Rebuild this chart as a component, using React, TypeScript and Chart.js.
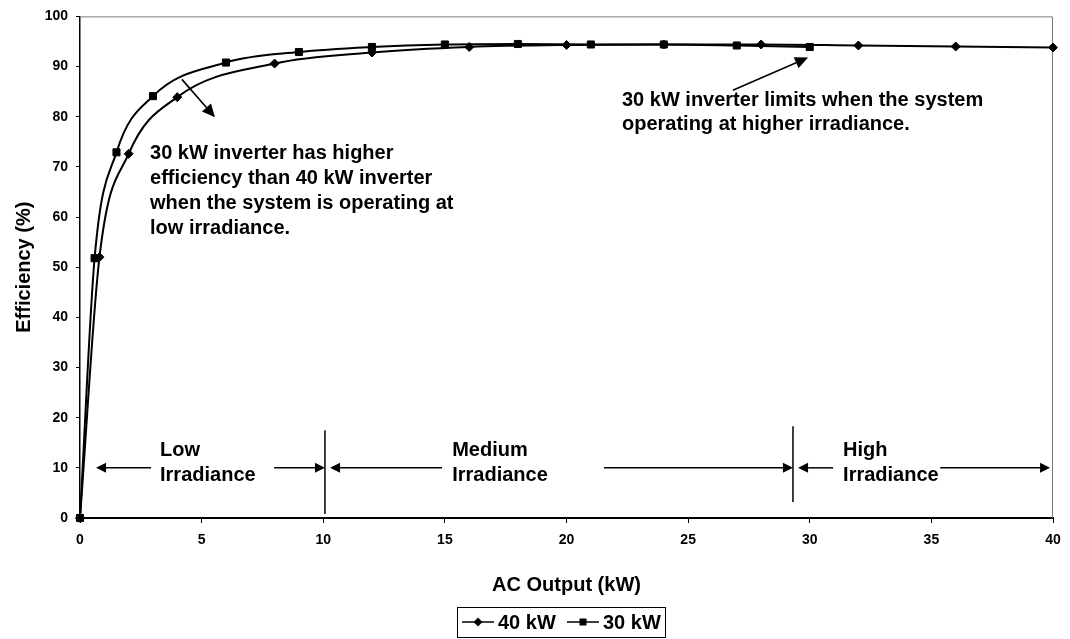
import React, { useEffect, useRef } from 'react';
import { Chart, registerables } from 'chart.js';

Chart.register(...registerables);

const FONT = "'Liberation Sans', Arial, Helvetica, sans-serif";

// ---- data ----
const seriesNames = ['40 kW', '30 kW'];
const output40 = [0, 0.8, 2, 4, 8, 12, 16, 20, 24, 28, 32, 36, 40];
const eff40 = [0, 52, 72.6, 83.9, 90.6, 92.8, 93.9, 94.3, 94.4, 94.4, 94.2, 94.0, 93.8];
const output30 = [0, 0.6, 1.5, 3, 6, 9, 12, 15, 18, 21, 24, 27, 30];
const eff30 = [0, 51.8, 72.9, 84.1, 90.8, 92.9, 93.9, 94.4, 94.5, 94.4, 94.4, 94.2, 93.9];

const xRange = [0, 40];
const xStep = 5;
const yRange = [0, 100];
const yStep = 10;
const xTitle = 'AC Output (kW)';
const yTitle = 'Efficiency (%)';

const noteLow = [
  '30 kW inverter has higher',
  'efficiency than 40 kW inverter',
  'when the system is operating at',
  'low irradiance.',
];
const noteHigh = ['30 kW inverter limits when the system', 'operating at higher irradiance.'];
const regionTop = ['Low', 'Medium', 'High'];
const regionBottom = ['Irradiance', 'Irradiance', 'Irradiance'];

// annotation geometry in data units (kW, %)
const regionBounds = [10.07, 29.31];
const regionBoundTop = [17.5, 18.3];
const regionBoundBottom = [0.8, 3.2];
const regionArrows = [
  [2.92, 0.66],
  [7.98, 10.07],
  [14.88, 10.28],
  [21.54, 29.31],
  [30.96, 29.52],
  [35.36, 39.88],
];
const regionArrowY = 10;
const regionTextX = [3.29, 15.3, 31.37];
const regionTextY = [13.5, 8.4];
const noteLowPos = { x: 2.88, y: [72.7, 67.7, 62.7, 57.8] };
const noteLowArrow = [4.19, 87.45, 5.55, 79.9];
const noteHighPos = { x: 22.28, y: [83.3, 78.5] };
const noteHighArrow = [26.84, 85.26, 29.93, 91.8];

function drawArrow(ctx: CanvasRenderingContext2D, x1: number, y1: number, x2: number, y2: number, head = 10, half = 4.5) {
  const a = Math.atan2(y2 - y1, x2 - x1);
  const bx = x2 - head * Math.cos(a);
  const by = y2 - head * Math.sin(a);
  ctx.beginPath();
  ctx.moveTo(x1, y1);
  ctx.lineTo(bx, by);
  ctx.stroke();
  ctx.beginPath();
  ctx.moveTo(x2, y2);
  ctx.lineTo(bx + half * Math.sin(a), by - half * Math.cos(a));
  ctx.lineTo(bx - half * Math.sin(a), by + half * Math.cos(a));
  ctx.closePath();
  ctx.fill();
}

const overlayPlugin = {
  id: 'overlay',
  beforeDatasetsDraw(chart: any) {
    const { ctx, chartArea } = chart;
    ctx.save();
    ctx.strokeStyle = '#7a7a7a';
    ctx.lineWidth = 1;
    ctx.beginPath();
    ctx.moveTo(chartArea.left, chartArea.top + 0.5);
    ctx.lineTo(chartArea.right - 0.5, chartArea.top + 0.5);
    ctx.lineTo(chartArea.right - 0.5, chartArea.bottom);
    ctx.stroke();
    ctx.restore();
  },
  afterDraw(chart: any) {
    const { ctx } = chart;
    const xs = chart.scales.x;
    const ys = chart.scales.y;
    const px = (v: number) => xs.getPixelForValue(v);
    const py = (v: number) => ys.getPixelForValue(v);
    ctx.save();
    ctx.fillStyle = '#000';
    ctx.strokeStyle = '#000';
    ctx.font = `bold 20px ${FONT}`;
    ctx.textAlign = 'left';
    ctx.textBaseline = 'middle';

    noteLow.forEach((t, i) => ctx.fillText(t, px(noteLowPos.x), py(noteLowPos.y[i])));
    noteHigh.forEach((t, i) => ctx.fillText(t, px(noteHighPos.x), py(noteHighPos.y[i])));
    regionTop.forEach((t, i) => ctx.fillText(t, px(regionTextX[i]), py(regionTextY[0])));
    regionBottom.forEach((t, i) => ctx.fillText(t, px(regionTextX[i]), py(regionTextY[1])));

    ctx.lineWidth = 1.6;
    drawArrow(ctx, px(noteLowArrow[0]), py(noteLowArrow[1]), px(noteLowArrow[2]), py(noteLowArrow[3]), 13, 6);
    drawArrow(ctx, px(noteHighArrow[0]), py(noteHighArrow[1]), px(noteHighArrow[2]), py(noteHighArrow[3]), 13, 6);

    ctx.lineWidth = 1.5;
    regionBounds.forEach((b, i) => {
      ctx.beginPath();
      ctx.moveTo(px(b), py(regionBoundTop[i]));
      ctx.lineTo(px(b), py(regionBoundBottom[i]));
      ctx.stroke();
    });
    regionArrows.forEach(([a, b]) => drawArrow(ctx, px(a), py(regionArrowY), px(b), py(regionArrowY), 10, 5));

    // legend
    const lx = 457, ly = 607, lw = 208, lh = 30;
    ctx.lineWidth = 1;
    ctx.strokeRect(lx + 0.5, ly + 0.5, lw, lh);
    const cy = ly + lh / 2;
    ctx.lineWidth = 1.5;
    ctx.beginPath();
    ctx.moveTo(462, cy); ctx.lineTo(494, cy);
    ctx.moveTo(567, cy); ctx.lineTo(599, cy);
    ctx.stroke();
    // diamond
    ctx.beginPath();
    ctx.moveTo(478, cy - 4.5); ctx.lineTo(482.5, cy); ctx.lineTo(478, cy + 4.5); ctx.lineTo(473.5, cy);
    ctx.closePath(); ctx.fill();
    // square
    ctx.fillRect(583 - 3.5, cy - 3.5, 7, 7);
    ctx.font = `bold 20px ${FONT}`;
    ctx.fillText(seriesNames[0], 498, cy + 1);
    ctx.fillText(seriesNames[1], 603, cy + 1);
    ctx.restore();
  },
};

export default function App() {
  const ref = useRef<HTMLCanvasElement | null>(null);
  useEffect(() => {
    document.body.style.margin = '0';
    const canvas = ref.current;
    if (!canvas) return;
    const chart = new Chart(canvas, {
      type: 'line',
      data: {
        datasets: [
          {
            label: seriesNames[0],
            data: output40.map((x, i) => ({ x, y: eff40[i] })),
            borderColor: '#000',
            backgroundColor: '#000',
            borderWidth: 2,
            pointStyle: 'rectRot',
            pointRadius: 4.5,
            pointBorderWidth: 1,
            pointBackgroundColor: '#000',
            pointBorderColor: '#000',
            cubicInterpolationMode: 'monotone',
            clip: false,
          },
          {
            label: seriesNames[1],
            data: output30.map((x, i) => ({ x, y: eff30[i] })),
            borderColor: '#000',
            backgroundColor: '#000',
            borderWidth: 2,
            pointStyle: 'rect',
            pointRadius: 5,
            pointBorderWidth: 1,
            pointBackgroundColor: '#000',
            pointBorderColor: '#000',
            cubicInterpolationMode: 'monotone',
            clip: false,
          },
        ],
      },
      options: {
        responsive: false,
        animation: false,
        events: [],
        layout: { padding: { left: 0, right: 17, top: 16, bottom: 0 } },
        plugins: { legend: { display: false }, tooltip: { enabled: false } },
        scales: {
          x: {
            type: 'linear',
            min: xRange[0],
            max: xRange[1],
            afterFit: (s: any) => { s.height = 121; },
            border: { display: true, color: '#000', width: 2 },
            grid: { display: true, drawOnChartArea: false, drawTicks: true, tickLength: 5, color: '#000', lineWidth: 1 },
            ticks: { stepSize: xStep, color: '#000', padding: 9, font: { family: FONT, size: 14, weight: 'bold' }, maxRotation: 0 },
            title: { display: true, text: xTitle, color: '#000', font: { family: FONT, size: 20, weight: 'bold' }, padding: { top: 0, bottom: 42 } },
          },
          y: {
            type: 'linear',
            min: yRange[0],
            max: yRange[1],
            afterFit: (s: any) => { s.width = 80; },
            border: { display: true, color: '#000', width: 1.5 },
            grid: { display: true, drawOnChartArea: false, drawTicks: true, tickLength: 4, color: '#000', lineWidth: 1 },
            ticks: { stepSize: yStep, color: '#000', padding: 8, font: { family: FONT, size: 14, weight: 'bold' } },
            title: { display: true, text: yTitle, color: '#000', font: { family: FONT, size: 20, weight: 'bold' }, padding: { top: 12, bottom: 0 } },
          },
        },
      },
      plugins: [overlayPlugin],
    } as any);
    return () => chart.destroy();
  }, []);
  return (
    <div style={{ width: 1070, height: 639, background: '#fff' }}>
      <canvas ref={ref} width={1070} height={639} style={{ display: 'block' }} />
    </div>
  );
}
